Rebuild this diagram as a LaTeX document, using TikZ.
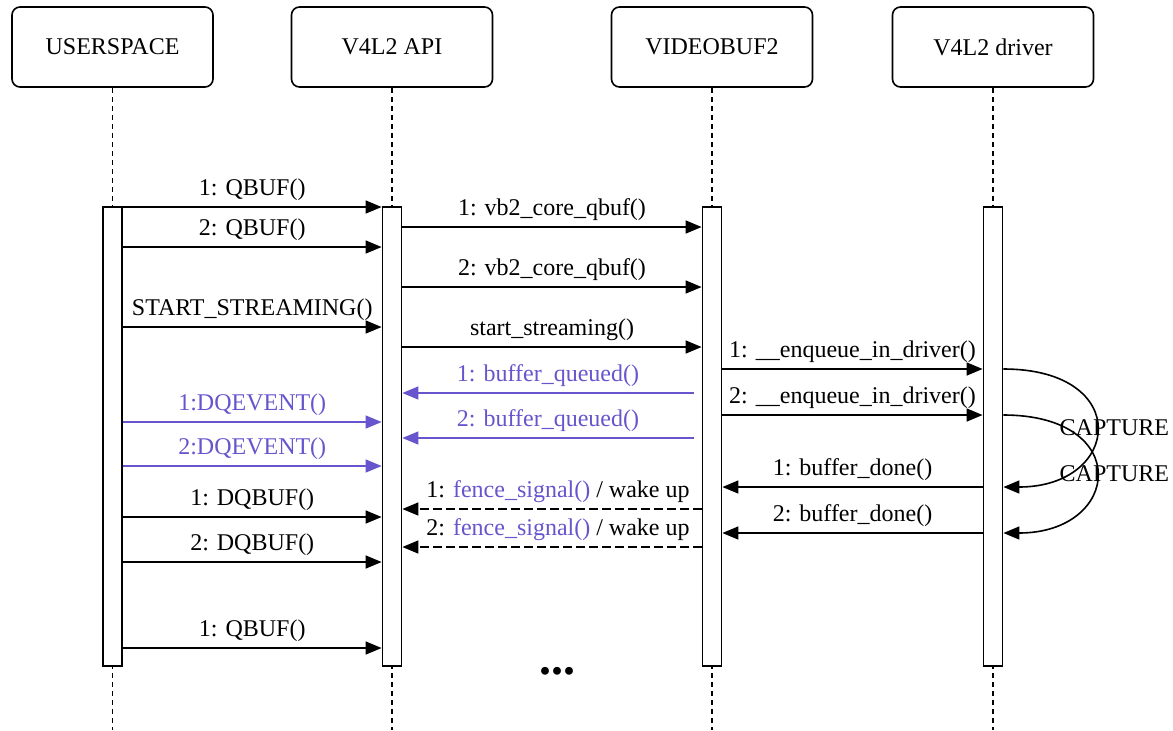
\documentclass[tikz,border=0pt]{standalone}
\usepackage{fontspec}
\setmainfont{Liberation Serif}
\usetikzlibrary{arrows.meta}
\definecolor{evt}{RGB}{102,85,204}
\begin{document}
\begin{tikzpicture}[x=0.5pt,y=-0.5pt,
  head/.style={draw, rounded corners=4pt, minimum width=100.5pt, minimum height=40pt,
    line width=0.8pt, fill=white, font=\fontsize{12}{14}\selectfont},
  act/.style={draw, fill=white, minimum width=9.5pt, minimum height=229.5pt,
    line width=0.9pt, inner sep=0pt},
  life/.style={dash pattern=on 2.5pt off 2pt, line width=0.9pt},
  msg/.style={-{Triangle[length=8pt,width=6.5pt]}, line width=0.8pt},
  ret/.style={msg, dash pattern=on 4.5pt off 2pt},
  ev/.style={msg, draw=evt},
  lbl/.style={anchor=base, inner sep=0pt, yshift=6pt, font=\fontsize{12}{14}\selectfont},
  looplbl/.style={inner sep=0pt, font=\fontsize{12}{14}\selectfont},
]
\useasboundingbox (0,0) rectangle (1173,730);

% participants
\node[head] (us)  at (112.5,47) {USERSPACE};
\node[head] (api) at (392,47)   {V4L2 API};
\node[head] (vb)  at (712,47)   {VIDEOBUF2};
\node[head] (drv) at (993,47)   {V4L2 driver};

% lifelines
\coordinate (usEnd)  at (112.5,730);
\coordinate (apiEnd) at (392,730);
\coordinate (vbEnd)  at (712,730);
\coordinate (drvEnd) at (993,730);
\draw[life] (us.south)  -- (usEnd);
\draw[life] (api.south) -- (apiEnd);
\draw[life] (vb.south)  -- (vbEnd);
\draw[life] (drv.south) -- (drvEnd);

% activation bars
\node[act] (usA)  at (112.5,436.5) {};
\node[act] (apiA) at (392,436.5)   {};
\node[act] (vbA)  at (712,436.5)   {};
\node[act] (drA)  at (993,436.5)   {};

% userspace -> V4L2 API
\draw[msg] (usA.east |- 0,207) -- node[lbl] {1: QBUF()} (apiA.west |- 0,207);
\draw[msg] (usA.east |- 0,247) -- node[lbl] {2: QBUF()} (apiA.west |- 0,247);
\draw[msg] (usA.east |- 0,327) -- node[lbl] {START\_STREAMING()} (apiA.west |- 0,327);
\draw[ev]  (usA.east |- 0,422) -- node[lbl, text=evt] {1:DQEVENT()} (apiA.west |- 0,422);
\draw[ev]  (usA.east |- 0,466) -- node[lbl, text=evt] {2:DQEVENT()} (apiA.west |- 0,466);
\draw[msg] (usA.east |- 0,517) -- node[lbl] {1: DQBUF()} (apiA.west |- 0,517);
\draw[msg] (usA.east |- 0,562) -- node[lbl] {2: DQBUF()} (apiA.west |- 0,562);
\draw[msg] (usA.east |- 0,648) -- node[lbl] {1: QBUF()} (apiA.west |- 0,648);

% V4L2 API <-> videobuf2
\draw[msg] (apiA.east |- 0,227) -- node[lbl] {1: vb2\_core\_qbuf()} (vbA.west |- 0,227);
\draw[msg] (apiA.east |- 0,287) -- node[lbl] {2: vb2\_core\_qbuf()} (vbA.west |- 0,287);
\draw[msg] (apiA.east |- 0,347) -- node[lbl] {start\_streaming()} (vbA.west |- 0,347);
\draw[ev]  ([xshift=-4pt]vbA.west |- 0,393) -- node[lbl, text=evt] {1: buffer\_queued()} (apiA.east |- 0,393);
\draw[ev]  ([xshift=-4pt]vbA.west |- 0,438) -- node[lbl, text=evt] {2: buffer\_queued()} (apiA.east |- 0,438);
\draw[ret] (vbA.west |- 0,509) -- node[lbl, xshift=3pt] {1: \textcolor{evt}{fence\_signal()} / wake up} (apiA.east |- 0,509);
\draw[ret] (vbA.west |- 0,547) -- node[lbl, xshift=3pt] {2: \textcolor{evt}{fence\_signal()} / wake up} (apiA.east |- 0,547);

% videobuf2 <-> driver
\draw[msg] (vbA.east |- 0,369) -- node[lbl] {1: \_\_enqueue\_in\_driver()} (drA.west |- 0,369);
\draw[msg] (vbA.east |- 0,415) -- node[lbl] {2: \_\_enqueue\_in\_driver()} (drA.west |- 0,415);
\draw[msg] (drA.west |- 0,487) -- node[lbl] {1: buffer\_done()} (vbA.east |- 0,487);
\draw[msg] (drA.west |- 0,533) -- node[lbl] {2: buffer\_done()} (vbA.east |- 0,533);

% capture loops inside the driver
\draw[msg] (drA.east |- 0,369) .. controls +(130,0) and +(118,0) ..
  node[looplbl, pos=0.5, xshift=9pt] {CAPTURE} (drA.east |- 0,487);
\draw[msg] (drA.east |- 0,415) .. controls +(130,0) and +(118,0) ..
  node[looplbl, pos=0.5, xshift=9pt] {CAPTURE} (drA.east |- 0,533);

% continuation mark
\node[inner sep=0pt, font=\fontsize{24}{24}\selectfont\bfseries] (more) at (557,671) {...};
\end{tikzpicture}
\end{document}
